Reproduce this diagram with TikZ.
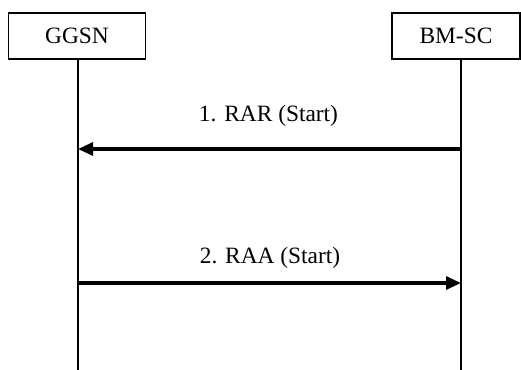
\documentclass[tikz,border=0pt]{standalone}
\usepackage{fontspec}
\setmainfont{Liberation Serif}
\usetikzlibrary{arrows.meta}
\begin{document}
\begin{tikzpicture}[x=0.5pt,y=-0.5pt,
  actor/.style={draw, line width=0.75pt, minimum height=23pt, inner sep=0pt, font=\fontsize{11.7}{14}\selectfont},
  lifeline/.style={line width=0.9pt},
  msg/.style={line width=1.6pt, -{Triangle[length=7.5pt,width=6.5pt]}},
  lbl/.style={font=\fontsize{11.7}{14}\selectfont, inner sep=0pt}]
\useasboundingbox (0,0) rectangle (521,370);
\node[actor, minimum width=68.5pt] (ggsn) at (77,36) {GGSN};
\node[actor, minimum width=64pt] (bmsc) at (456,36) {BM-SC};
\coordinate (gEnd) at (78,370);
\coordinate (bEnd) at (461,370);
\draw[lifeline] (ggsn.south -| gEnd) -- (gEnd);
\draw[lifeline] (bmsc.south -| bEnd) -- (bEnd);
\coordinate (m1b) at (461,149);
\coordinate (m1g) at (78,149);
\coordinate (m2g) at (78,283);
\coordinate (m2b) at (461,283);
\draw[msg] (m1b) -- (m1g);
\draw[msg] (m2g) -- (m2b);
\node[lbl] (l1) at (268.5,116) {1. RAR (Start)};
\node[lbl] (l2) at (270,258) {2. RAA (Start)};
\end{tikzpicture}
\end{document}
